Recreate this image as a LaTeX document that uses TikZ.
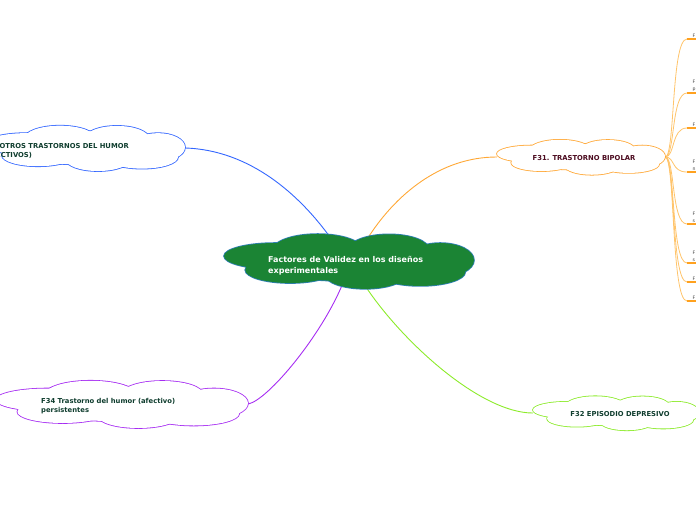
\documentclass[tikz,border=0pt]{standalone}
\usepackage{fontspec}
\setmainfont{DejaVu Sans}
\usetikzlibrary{shapes.geometric}
\definecolor{cfill}{HTML}{1B8434}
\definecolor{cedge}{HTML}{2F7FB5}
\definecolor{cblue}{HTML}{3366FF}
\definecolor{corange}{HTML}{FFA836}
\definecolor{cpurple}{HTML}{A62CF2}
\definecolor{cgreen}{HTML}{8CEB2A}
\definecolor{cdark}{HTML}{0F3D2E}
\definecolor{cmaroon}{HTML}{4B0A1E}
\definecolor{cleaf}{HTML}{FFC46B}
\definecolor{cleafu}{HTML}{FFA11F}
\newcommand\mmcloud[6]{% cx cy W H edge fill
  \foreach \u/\v/\a/\b in {-0.59/-0.17/0.41/0.45,-0.25/-0.38/0.36/0.55,0.32/-0.40/0.32/0.52,0.73/-0.03/0.27/0.59,0.57/0.38/0.36/0.48,0.13/0.48/0.32/0.48,-0.47/0.31/0.36/0.45,0/0/0.8/0.69}{
    \draw[#5, fill=#6, line width=1.6pt] ({#1+\u*#3},{#2+\v*#4}) ellipse [x radius={\a*#3}, y radius={\b*#4}];
  }
  \foreach \u/\v/\a/\b in {-0.59/-0.17/0.41/0.45,-0.25/-0.38/0.36/0.55,0.32/-0.40/0.32/0.52,0.73/-0.03/0.27/0.59,0.57/0.38/0.36/0.48,0.13/0.48/0.32/0.48,-0.47/0.31/0.36/0.45,0/0/0.8/0.69}{
    \fill[#6] ({#1+\u*#3},{#2+\v*#4}) ellipse [x radius={\a*#3}, y radius={\b*#4}];
  }
}
\tikzset{
  anchorbox/.style={ellipse, inner sep=0pt, draw=none},
  lbl/.style={font=\bfseries\fontsize{6.8}{9}\selectfont, text=cdark, align=left, inner sep=0pt},
  conn/.style={line width=0.9pt, shorten >=-8pt},
  leafline/.style={cleaf, line width=0.8pt},
  leafu/.style={cleafu, line width=1.3pt},
  leaftxt/.style={font=\fontsize{4.6}{6.6}\selectfont, text=black!75, align=left, inner sep=0pt, anchor=south west},
}
\begin{document}
\begin{tikzpicture}[x=1pt,y=-1pt]
\useasboundingbox (0,0) rectangle (696,520);
\clip (0,0) rectangle (696,520);
% node outlines (invisible) for connector anchors
\node[anchorbox, minimum width=250pt, minimum height=58pt] (main) at (349,261) {};
\node[anchorbox, minimum width=200pt, minimum height=48pt] (f38) at (85,148) {};
\node[anchorbox, minimum width=168pt, minimum height=37pt] (f31) at (581,157) {};
\node[anchorbox, minimum width=252pt, minimum height=50pt] (f34) at (122,404) {};
\node[anchorbox, minimum width=166pt, minimum height=36pt] (f32) at (616,413) {};
% connectors
\draw[conn, cblue] (f38.east) .. controls (250,150) and (300,195) .. (main.128);
\draw[conn, corange] (f31.west) .. controls (440,157) and (395,195) .. (main.52);
\draw[conn, cpurple] (f34.east) .. controls (268,400) and (322,335) .. (main.253);
\draw[conn, cgreen] (f32.west) .. controls (480,413) and (400,340) .. (main.303);
% leaves of F31
\coordinate (hub) at (f31.east);
\foreach \n/\y in {1/39,2/93,3/128,4/172,5/224,6/263,7/282,8/301}{
  \coordinate (l\n) at (687,\y);
}
\foreach \n in {1,...,8}{
  \draw[leafline] (hub) .. controls +(10,0) and +(-16,0) .. (l\n);
}
\foreach \n in {1,...,8}{
  \draw[leafu] (l\n) -- ++(14,0);
}
\node[leaftxt] (lt1) at ([xshift=5.5pt,yshift=1.5pt]l1) {F};
\node[leaftxt] (lt2) at ([xshift=5.5pt,yshift=1.5pt]l2) {F\\p};
\node[leaftxt] (lt3) at ([xshift=5.5pt,yshift=1.5pt]l3) {F};
\node[leaftxt] (lt4) at ([xshift=5.5pt,yshift=1.5pt]l4) {F\\n};
\node[leaftxt] (lt5) at ([xshift=5.5pt,yshift=1.5pt]l5) {F\\s};
\node[leaftxt] (lt6) at ([xshift=5.5pt,yshift=1.5pt]l6) {F\\s};
\node[leaftxt] (lt7) at ([xshift=5.5pt,yshift=1.5pt]l7) {F};
\node[leaftxt] (lt8) at ([xshift=5.5pt,yshift=1.5pt]l8) {F};
% clouds
\mmcloud{349}{261}{125}{29}{cedge}{cfill}
\mmcloud{85}{148}{100}{24}{cblue}{white}
\mmcloud{581}{157}{84}{18.5}{corange}{white}
\mmcloud{122}{404}{126}{25}{cpurple}{white}
\mmcloud{616}{413}{83}{18}{cgreen}{white}
% texts
\node[font=\bfseries\fontsize{8}{11}\selectfont, text=white, align=left, inner sep=0pt, anchor=west] (tmain) at (268,265.5) {Factores de Validez en los diseños\\experimentales};
\node[lbl, anchor=north east] (t38) at (129,143) {F38 OTROS TRASTORNOS DEL HUMOR\\(AFECTIVOS)};
\node[lbl, text=cmaroon] (t31) at (584,158.5) {F31. TRASTORNO BIPOLAR};
\node[lbl, anchor=west] (t34) at (41,406.5) {F34 Trastorno del humor (afectivo)\\persistentes};
\node[lbl] (t32) at (620,414.5) {F32 EPISODIO DEPRESIVO};
\end{tikzpicture}
\end{document}
